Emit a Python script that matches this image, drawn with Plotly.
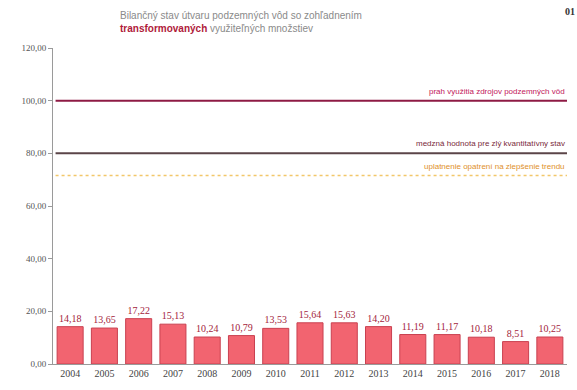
import plotly.graph_objects as go

years = [str(y) for y in range(2004, 2019)]
values = [14.18, 13.65, 17.22, 15.13, 10.24, 10.79, 13.53, 15.64, 15.63, 14.20,
          11.19, 11.17, 10.18, 8.51, 10.25]

thresholds = [100.0, 80.0, 71.6]
threshold_labels = [
    "prah využitia zdrojov podzemných vôd",
    "medzná hodnota pre zlý kvantitatívny stav",
    "uplatnenie opatrení na zlepšenie trendu",
]
threshold_colors = ["#8e1a44", "#5b4548", "#f2c76a"]
label_colors = ["#c2185b", "#7a2a3a", "#e0902a"]

y_ticks = [0, 20, 40, 60, 80, 100, 120]
y_tick_text = [f"{v:.2f}".replace(".", ",") for v in y_ticks]
bar_text = [f"{v:.2f}".replace(".", ",") for v in values]

fig = go.Figure()
fig.add_trace(go.Bar(
    x=years, y=values,
    marker=dict(color="#f26470", line=dict(color="#c94050", width=1)),
    width=0.76,
    text=bar_text, textposition="outside",
    textfont=dict(family="Liberation Serif", size=10, color="#a3243c"),
    cliponaxis=False,
))

for i, (val, col) in enumerate(zip(thresholds, threshold_colors)):
    fig.add_shape(
        type="line", xref="paper", yref="y", x0=0.005, x1=1, y0=val, y1=val,
        line=dict(color=col, width=2 if i < 2 else 1.5, dash="solid" if i < 2 else "dot"),
    )
    fig.add_annotation(
        xref="paper", yref="y", x=1, y=val, xanchor="right", yanchor="bottom",
        yshift=3 if i < 2 else 2, text=threshold_labels[i], showarrow=False,
        font=dict(family="Liberation Sans", size=8, color=label_colors[i]),
    )

fig.add_annotation(
    xref="paper", yref="paper", x=0.126, y=1.128, xanchor="left", yanchor="top",
    text="Bilančný stav útvaru podzemných vôd so zohľadnením<br>"
         "<b><span style='color:#b01a3a'>transformovaných</span></b> využiteľných množstiev",
    showarrow=False, align="left",
    font=dict(family="Liberation Sans", size=10, color="#8a8a8a"),
)
fig.add_annotation(
    xref="paper", yref="paper", x=1.02, y=1.14, xanchor="right", yanchor="top",
    text="<b>01</b>", showarrow=False,
    font=dict(family="Liberation Serif", size=10, color="#333333"),
)

fig.update_layout(
    width=577, height=390,
    margin=dict(l=53, r=10, t=48, b=26),
    paper_bgcolor="white", plot_bgcolor="white",
    showlegend=False, bargap=0.24,
)
fig.update_xaxes(
    showgrid=False, showline=True, linecolor="#9a9a9a", linewidth=1,
    ticks="", tickfont=dict(family="Liberation Serif", size=10, color="#444444"),
)
fig.update_yaxes(
    range=[0, 120], tickvals=y_ticks, ticktext=y_tick_text,
    showgrid=False, zeroline=False, showline=True, linecolor="#9a9a9a", linewidth=1,
    ticks="outside", ticklen=4, tickcolor="#9a9a9a",
    tickfont=dict(family="Liberation Serif", size=9, color="#555555"),
)

fig.write_html("out.html")
